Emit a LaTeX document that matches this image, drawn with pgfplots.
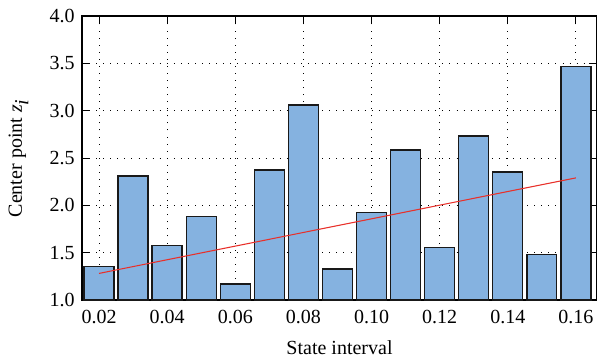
\documentclass[border=0pt]{standalone}
\usepackage{pgfplots}
\pgfplotsset{compat=1.18}
\usepackage{fontspec}
\setmainfont{Liberation Serif}
\definecolor{barblue}{HTML}{85B2E0}
\definecolor{linered}{HTML}{E8302A}
\begin{document}
\begin{tikzpicture}[x=1pt,y=1pt]
\begin{axis}[
  at={(0,0)}, anchor=south west,
  scale only axis,
  width=386.25pt, height=213pt,
  xmin=0.0150, xmax=0.1662,
  ymin=1.0, ymax=4.0,
  xtick={0.02,0.04,...,0.16},
  ytick={1.0,1.5,...,4.0},
  xticklabel style={yshift=-4pt,/pgf/number format/.cd,fixed,fixed zerofill,precision=2,assume math mode=true},
  yticklabel style={xshift=-2pt,/pgf/number format/.cd,fixed,fixed zerofill,precision=1,assume math mode=true},
  tick label style={font=\fontsize{15}{17}\selectfont},
  label style={font=\fontsize{15}{17}\selectfont},
  xlabel={State interval},
  ylabel={Center point \textit{z}$_{\textit{i}}$},
  ylabel style={yshift=9pt},
  xlabel style={yshift=-6pt},
  tick align=inside,
  major tick length=6pt,
  tick style={black, line width=0.7pt},
  axis line style={black, line width=0.9pt},
  grid=major,
  major grid style={black, line width=0.7pt, dash pattern=on 0.7pt off 4.6pt},
  axis on top=false,
  clip=true,
]
\addplot[ybar, bar width=0.0088, fill=barblue, draw=black!90, line width=1pt] coordinates {
(0.02,1.356) (0.03,2.31) (0.04,1.573) (0.05,1.879) (0.06,1.169)
(0.07,2.375) (0.08,3.061) (0.09,1.327) (0.10,1.921) (0.11,2.583)
(0.12,1.552) (0.13,2.734) (0.14,2.351) (0.15,1.482) (0.16,3.466)
};
\addplot[linered, line width=0.8pt, mark=none] coordinates {(0.02,1.281) (0.16,2.290)};
\end{axis}
\pgfresetboundingbox
\path (-61.5pt,-46.5pt) rectangle (386.25pt,225pt);
\end{tikzpicture}
\end{document}
